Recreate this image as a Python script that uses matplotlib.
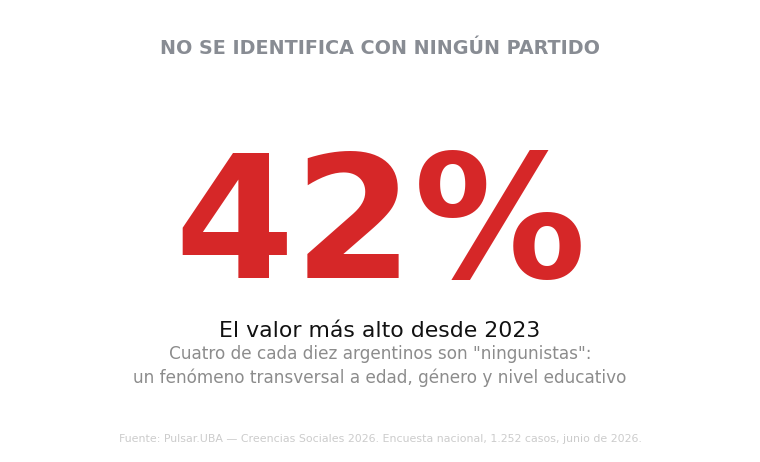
import matplotlib
matplotlib.use("Agg")
import matplotlib.pyplot as plt

title = "NO SE IDENTIFICA CON NINGÚN PARTIDO"
value = 42
value_label = f"{value}%"
headline = "El valor más alto desde 2023"
sub_lines = ['Cuatro de cada diez argentinos son "ningunistas":',
             "un fenómeno transversal a edad, género y nivel educativo"]
source = "Fuente: Pulsar.UBA — Creencias Sociales 2026. Encuesta nacional, 1.252 casos, junio de 2026."

plt.rcParams['font.family'] = ['DejaVu Sans']
fig = plt.figure(figsize=(7.6, 4.62), dpi=100)
fig.patch.set_facecolor("white")

H = 462.0
def y(px):
    return 1 - px / H

fig.text(0.5, y(48), title, ha="center", va="center", fontsize=13.8, fontweight="bold", color="#888c93")
fig.text(0.5, y(231), value_label, ha="center", va="center", fontsize=124, fontweight="bold", color="#d62728")
fig.text(0.5, y(331), headline, ha="center", va="center", fontsize=15.8, color="#111111")
fig.text(0.5, y(354), sub_lines[0], ha="center", va="center", fontsize=12.2, color="#8c8c8c")
fig.text(0.5, y(378), sub_lines[1], ha="center", va="center", fontsize=12.2, color="#8c8c8c")
fig.text(0.5, y(439), source, ha="center", va="center", fontsize=7.9, color="#cccccc")

fig.savefig("out.png", dpi=100, facecolor="white")
